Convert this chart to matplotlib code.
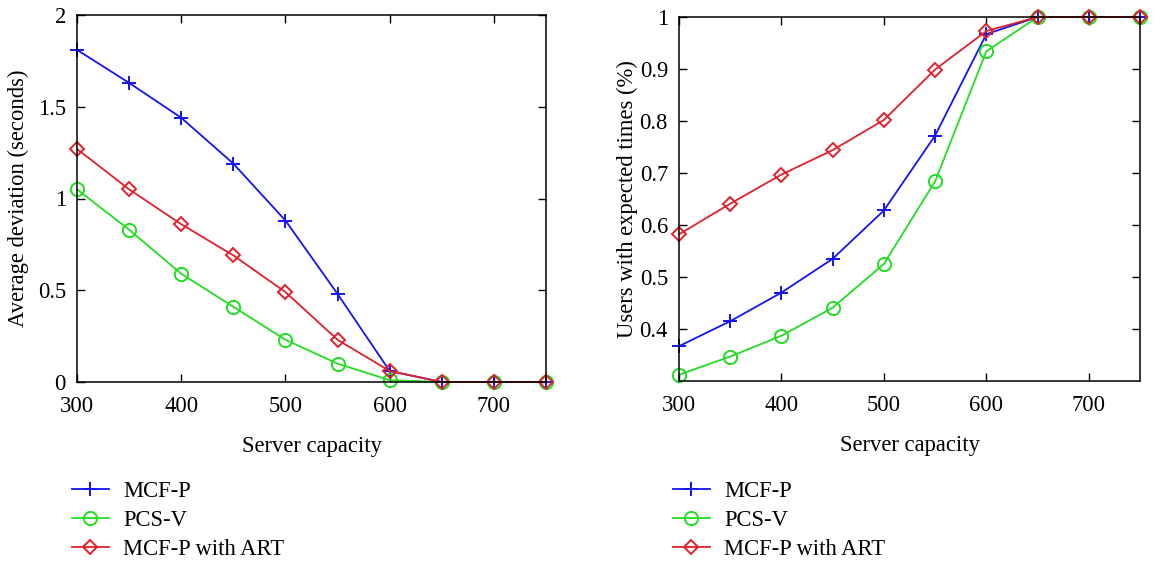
import matplotlib
matplotlib.use("Agg")
import matplotlib.pyplot as plt

capacity = [300, 350, 400, 450, 500, 550, 600, 650, 700, 750]
labels = ["MCF-P", "PCS-V", "MCF-P with ART"]

dev_mcfp = [1.81, 1.63, 1.44, 1.19, 0.88, 0.48, 0.06, 0.0, 0.0, 0.0]
dev_pcsv = [1.05, 0.83, 0.59, 0.41, 0.23, 0.10, 0.01, 0.0, 0.0, 0.0]
dev_art = [1.27, 1.05, 0.86, 0.69, 0.49, 0.23, 0.06, 0.0, 0.0, 0.0]

usr_mcfp = [0.367, 0.415, 0.470, 0.535, 0.628, 0.772, 0.967, 1.0, 1.0, 1.0]
usr_pcsv = [0.312, 0.347, 0.387, 0.441, 0.525, 0.684, 0.934, 1.0, 1.0, 1.0]
usr_art = [0.582, 0.641, 0.697, 0.744, 0.802, 0.899, 0.973, 1.0, 1.0, 1.0]

xticks = [300, 400, 500, 600, 700]
left_yticks = [0, 0.5, 1, 1.5, 2]
left_yticklabels = ["0", "0.5", "1", "1.5", "2"]
right_yticks = [0.4, 0.5, 0.6, 0.7, 0.8, 0.9, 1.0]
right_yticklabels = ["0.4", "0.5", "0.6", "0.7", "0.8", "0.9", "1"]

plt.rcParams['font.family'] = ['Liberation Serif', 'DejaVu Serif']

BLUE = "#1414f0"
GREEN = "#22dd22"
RED = "#e0202a"
FS = 16.3

styles = [
    dict(color=BLUE, marker='+', markersize=10, markeredgewidth=1.4),
    dict(color=GREEN, marker='o', markersize=9.5, markerfacecolor='none', markeredgewidth=1.4),
    dict(color=RED, marker='D', markersize=7.5, markerfacecolor='none', markeredgewidth=1.4),
]

fig = plt.figure(figsize=(11.63, 5.65), dpi=100)
ax1 = fig.add_axes([77 / 1163, 1 - 382 / 565, 469 / 1163, 367 / 565])
ax2 = fig.add_axes([679 / 1163, 1 - 381 / 565, 461 / 1163, 364 / 565])

def draw(ax, series, ylim, yticks, yticklabels, ylabel, legx, ylabelpad):
    for s, st, lab in zip(series, styles, labels):
        ax.plot(capacity, s, linewidth=1.3, label=lab, clip_on=False, **st)
    ax.set_xlim(300, 750)
    ax.set_ylim(*ylim)
    ax.set_xticks(xticks)
    ax.set_xticklabels([str(t) for t in xticks])
    ax.set_yticks(yticks)
    ax.set_yticklabels(yticklabels)
    ax.tick_params(direction='in', top=True, right=True, length=6, width=1.0,
                   labelsize=FS)
    ax.tick_params(axis='x', pad=10)
    ax.tick_params(axis='y', pad=8)
    for sp in ax.spines.values():
        sp.set_linewidth(1.1)
    ax.set_xlabel("Server capacity", fontsize=FS, labelpad=14)
    ax.set_ylabel(ylabel, fontsize=FS, labelpad=ylabelpad)
    ax.legend(loc='upper left', bbox_to_anchor=(legx, 1 - 481 / 565),
              bbox_transform=fig.transFigure, frameon=False,
              fontsize=FS, handlelength=1.63, handletextpad=0.62,
              labelspacing=0.36, borderaxespad=0, borderpad=0)

draw(ax1, [dev_mcfp, dev_pcsv, dev_art], (0, 2), left_yticks, left_yticklabels,
     "Average deviation (seconds)", 72 / 1163, 6)
draw(ax2, [usr_mcfp, usr_pcsv, usr_art], (0.3, 1.0), right_yticks, right_yticklabels,
     "Users with expected times (%)", 673 / 1163, 1)

fig.savefig("out.png", dpi=100)
